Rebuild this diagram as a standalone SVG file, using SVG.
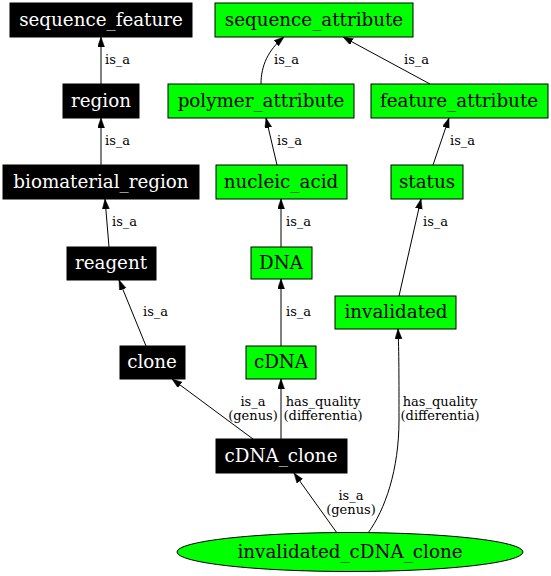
<svg xmlns="http://www.w3.org/2000/svg" width="551" height="576" viewBox="0 0 551 576">
<style>
.bk rect{fill:#000;stroke:#000}
.bk text{fill:#fff}
.gr rect,.gr ellipse{fill:#00ff00;stroke:#000}
.gr text{fill:#000}
.n text{font-family:"DejaVu Serif",serif;font-size:18.3px;text-anchor:middle}
#edges path{fill:none;stroke:#000;stroke-width:1;marker-end:url(#ah)}
#edges text{font-family:"DejaVu Serif",serif;font-size:13px;fill:#000}
#edges text.m{text-anchor:middle}
</style>
<defs>
<marker id="ah" markerUnits="userSpaceOnUse" markerWidth="10" markerHeight="8" refX="10" refY="3.5" orient="auto">
<path d="M0,0 L10,3.5 L0,7 z" fill="#000" stroke="#000" stroke-width="0.5"/>
</marker>
</defs>
<rect width="551" height="576" fill="#fff"/>
<g id="edges">
<path d="M101,84 L101,37"/>
<text x="105" y="64">is_a</text>
<path d="M101,165 L101,118"/>
<text x="105" y="145">is_a</text>
<path d="M109,247 L105,199"/>
<text x="112" y="226">is_a</text>
<path d="M146,346 L119,280"/>
<text x="143" y="316">is_a</text>
<path d="M253,439 L172,379"/>
<text class="m" x="253" y="406">is_a</text>
<text class="m" x="253" y="420">(genus)</text>
<path d="M281,439 L281,379"/>
<text class="m" x="323" y="406">has_quality</text>
<text class="m" x="323" y="420">(differentia)</text>
<path d="M337,533 L294,473"/>
<text class="m" x="351" y="500">is_a</text>
<text class="m" x="351" y="514">(genus)</text>
<path d="M368,533 C385,510 399,470 399,420 C399,380 399,350 398,329"/>
<text class="m" x="440" y="406">has_quality</text>
<text class="m" x="440" y="420">(differentia)</text>
<path d="M399,296 L421,199"/>
<text x="423" y="226">is_a</text>
<path d="M433,165 L449,118"/>
<text x="450" y="145">is_a</text>
<path d="M430,84 L343,37"/>
<text x="404" y="64">is_a</text>
<path d="M261,84 C261,66 268,50 284,37"/>
<text x="274" y="64">is_a</text>
<path d="M277,165 L266,118"/>
<text x="277" y="145">is_a</text>
<path d="M281,247 L281,199"/>
<text x="286" y="226">is_a</text>
<path d="M281,346 L281,279"/>
<text x="286" y="316">is_a</text>
</g>
<g id="sequence_feature" class="n bk"><rect x="10" y="3" width="182" height="34"/><text x="101" y="26">sequence_feature</text></g>
<g id="region" class="n bk"><rect x="63" y="84" width="76" height="34"/><text x="101" y="107">region</text></g>
<g id="biomaterial_region" class="n bk"><rect x="3" y="165" width="196" height="34"/><text x="101" y="188">biomaterial_region</text></g>
<g id="reagent" class="n bk"><rect x="67" y="247" width="89" height="33"/><text x="111" y="269">reagent</text></g>
<g id="clone" class="n bk"><rect x="120" y="346" width="65" height="33"/><text x="152" y="368">clone</text></g>
<g id="cDNA_clone" class="n bk"><rect x="216" y="439" width="131" height="34"/><text x="281" y="462">cDNA_clone</text></g>
<g id="sequence_attribute" class="n gr"><rect x="215" y="3" width="198" height="34"/><text x="314" y="26">sequence_attribute</text></g>
<g id="polymer_attribute" class="n gr"><rect x="168" y="84" width="186" height="34"/><text x="261" y="107">polymer_attribute</text></g>
<g id="feature_attribute" class="n gr"><rect x="371" y="84" width="177" height="34"/><text x="459" y="107">feature_attribute</text></g>
<g id="nucleic_acid" class="n gr"><rect x="216" y="165" width="131" height="34"/><text x="281" y="188">nucleic_acid</text></g>
<g id="status" class="n gr"><rect x="391" y="165" width="72" height="34"/><text x="427" y="188">status</text></g>
<g id="DNA" class="n gr"><rect x="251" y="247" width="61" height="32"/><text x="281" y="269">DNA</text></g>
<g id="invalidated" class="n gr"><rect x="335" y="296" width="121" height="33"/><text x="396" y="318">invalidated</text></g>
<g id="cDNA" class="n gr"><rect x="246" y="346" width="70" height="33"/><text x="281" y="368">cDNA</text></g>
<g id="invalidated_cDNA_clone" class="n gr"><ellipse cx="350" cy="552" rx="173" ry="19.5"/><text x="350" y="558">invalidated_cDNA_clone</text></g>
</svg>
